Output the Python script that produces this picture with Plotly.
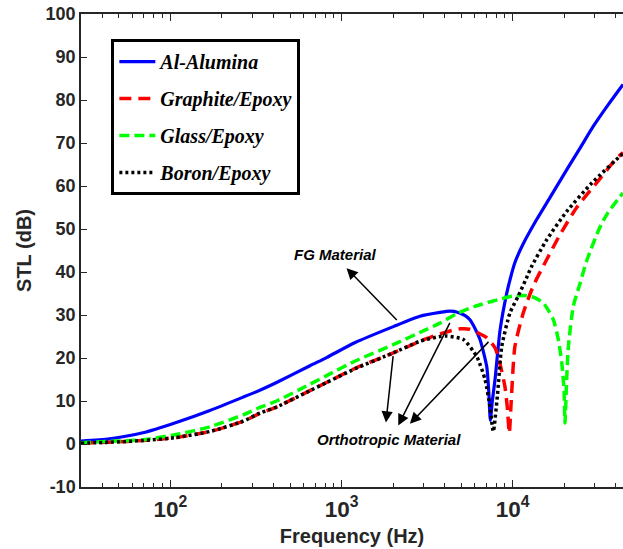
import numpy as np
import plotly.graph_objects as go

# ---------------- data ----------------
freq_al = [30, 44, 69, 108, 170, 266, 333, 417, 653, 817, 1200, 2005, 2870, 3758, 4300,
           4800, 5300, 5620, 6000, 6440, 7050, 7250, 7400, 7600, 7880, 8440, 9230, 9640, 10300,
           11500, 13800, 16500, 20700, 25000, 29600, 36000, 44100]
stl_al = [0.7, 1.2, 2.6, 5.0, 7.8, 10.9, 12.5, 14.3, 18.2, 20.1, 23.6, 27.3, 29.7, 30.6, 30.9,
          30.6, 29.8, 28.9, 27.0, 24.3, 18.0, 12.0, 5.5, 10.0, 15.0, 26.6, 35.1, 38.2, 42.2,
          46.5, 52.2, 57.3, 63.8, 69.1, 73.9, 78.8, 83.6]

freq_gr = [30, 44, 69, 108, 170, 266, 333, 417, 653, 817, 1200, 2005, 3000, 3758, 4500,
           5000, 5600, 6300, 7000, 7900, 8500, 9000, 9300, 9550, 9800, 10300, 11530,
           13200, 15800, 18900, 23650, 31000, 39800, 44100]
stl_gr = [0.2, 0.4, 0.8, 1.5, 2.9, 5.3, 7.1, 8.6, 12.4, 14.3, 17.6, 21.2, 24.2, 25.6, 26.5,
          26.8, 26.7, 25.8, 24.8, 22.3, 18.0, 13.4, 8.5, 2.5, 10.0, 22.7, 30.5,
          36.8, 42.9, 48.7, 55.0, 60.8, 66.1, 67.8]

freq_gl = [30, 44, 69, 108, 170, 266, 333, 417, 653, 817, 1200, 2005, 3000, 3758, 4700,
           6000, 8440, 10000, 12080, 13500, 15100, 16200, 17270, 18480, 19350, 19950, 20200,
           20700, 21150, 22600, 24760, 27000, 32000, 36000, 44100]
stl_gl = [0.3, 0.6, 1.0, 2.2, 4.0, 6.8, 8.5, 10.0, 13.9, 15.9, 19.3, 23.1, 26.3, 28.1, 30.3,
          32.0, 33.7, 34.4, 34.5, 34.0, 32.8, 31.0, 28.9, 24.3, 18.8, 12.6, 4.9,
          15.7, 22.7, 32.0, 37.4, 42.5, 50.0, 53.8, 58.4]

freq_bo = [30, 44, 69, 108, 170, 266, 333, 417, 653, 817, 1200, 2005, 2870, 3758, 4110,
           5140, 6150, 6890, 7360, 7700, 8130, 8630, 9640, 10800, 12000, 12900, 15800,
           20700, 29000, 43400, 44100]
stl_bo = [0.2, 0.4, 0.8, 1.5, 2.9, 5.3, 7.2, 8.6, 12.4, 14.3, 17.5, 21.2, 23.9, 25.0, 25.1,
          24.3, 20.4, 15.0, 8.7, 2.9, 11.1, 22.7, 30.5, 34.5, 38.5, 41.3, 47.5,
          54.1, 60.7, 67.3, 67.5]

names = ["Al-Alumina", "Graphite/Epoxy", "Glass/Epoxy", "Boron/Epoxy"]
x_range = [30, 44100]
y_ticks = [-10, 0, 10, 20, 30, 40, 50, 60, 70, 80, 90, 100]
y_ticktext = ["-10", "0", "10", "20", "30", "40", "50", "60", "70", "80", "90", "100"]

# ---------------- figure ----------------
fig = go.Figure()
series = [
    (freq_al, stl_al, names[0], "#0000FF", "solid", 3.2),
    (freq_gr, stl_gr, names[1], "#FF0000", "12px,7px", 3.5),
    (freq_gl, stl_gl, names[2], "#00FF00", "10px,5px", 3.5),
    (freq_bo, stl_bo, names[3], "#000000", "3px,3px", 3.5),
]
for i, (fx, fy, nm, col, dash, w) in enumerate(series):
    fig.add_trace(go.Scatter(
        x=fx, y=fy, name=nm, mode="lines", legendgroup=f"g{i}",
        line=dict(color=col, dash=dash, width=w, shape="spline", smoothing=0.6),
    ))

axis_col = "#262626"
tickfont = dict(family="Liberation Sans, Arial", size=18, color=axis_col, weight="bold")
titlefont = dict(family="Liberation Sans, Arial", size=20, color=axis_col, weight="bold")

fig.update_xaxes(
    type="log", range=[np.log10(x_range[0]), np.log10(x_range[1])],
    dtick=1, exponentformat="power", showexponent="all",
    ticks="inside", ticklen=7, tickwidth=1.2, tickcolor=axis_col,
    minor=dict(ticks="inside", ticklen=4, tickwidth=1, tickcolor=axis_col, dtick="D1", showgrid=False),
    showline=True, linecolor=axis_col, linewidth=1.5, mirror="ticks",
    showgrid=False, zeroline=False, tickfont=tickfont, ticklabelstandoff=2,
    title=dict(text="Frequency (Hz)", font=titlefont, standoff=8),
)
fig.update_yaxes(
    range=[-10, 100], tickvals=y_ticks, ticktext=y_ticktext,
    ticks="inside", ticklen=6, tickwidth=1.2, tickcolor=axis_col,
    showline=True, linecolor=axis_col, linewidth=1.5,
    showgrid=False, zeroline=False, tickfont=tickfont,
    title=dict(text="STL (dB)", font=titlefont, standoff=9),
)

ann_font = dict(family="Liberation Sans, Arial", size=15, color="#000000", weight="bold", style="italic")
annotations = [
    dict(x=np.log10(927), y=44.0, text="FG Material", showarrow=False, font=ann_font),
    dict(x=np.log10(1888), y=1.0, text="Orthotropic Material", showarrow=False, font=ann_font),
]
arrows = [
    ((3.029, 40.9), (3.331, 28.5)),
    ((3.259, 5.0), (3.302, 20.8)),
    ((3.331, 4.3), (3.637, 28.5)),
    ((3.399, 4.7), (3.867, 24.1)),
]
for (hx, hy), (tx, ty) in arrows:
    annotations.append(dict(x=hx, y=hy, ax=tx, ay=ty, xref="x", yref="y", axref="x", ayref="y",
                            text="", showarrow=True, arrowhead=2, arrowsize=1.5, arrowwidth=1.5,
                            arrowcolor="#000000"))

fig.update_layout(
    width=623, height=549, autosize=False,
    margin=dict(l=81, r=0, t=14, b=62),
    paper_bgcolor="white", plot_bgcolor="white",
    annotations=annotations,
    legend=dict(
        x=0.056, y=0.947, xanchor="left", yanchor="top",
        bgcolor="white", bordercolor="#000000", borderwidth=3,
        font=dict(family="Liberation Serif, Times New Roman", size=20, color="#000000",
                  weight="bold", style="italic"),
        tracegroupgap=8, itemwidth=36,
    ),
)

fig.write_html("out.html")
